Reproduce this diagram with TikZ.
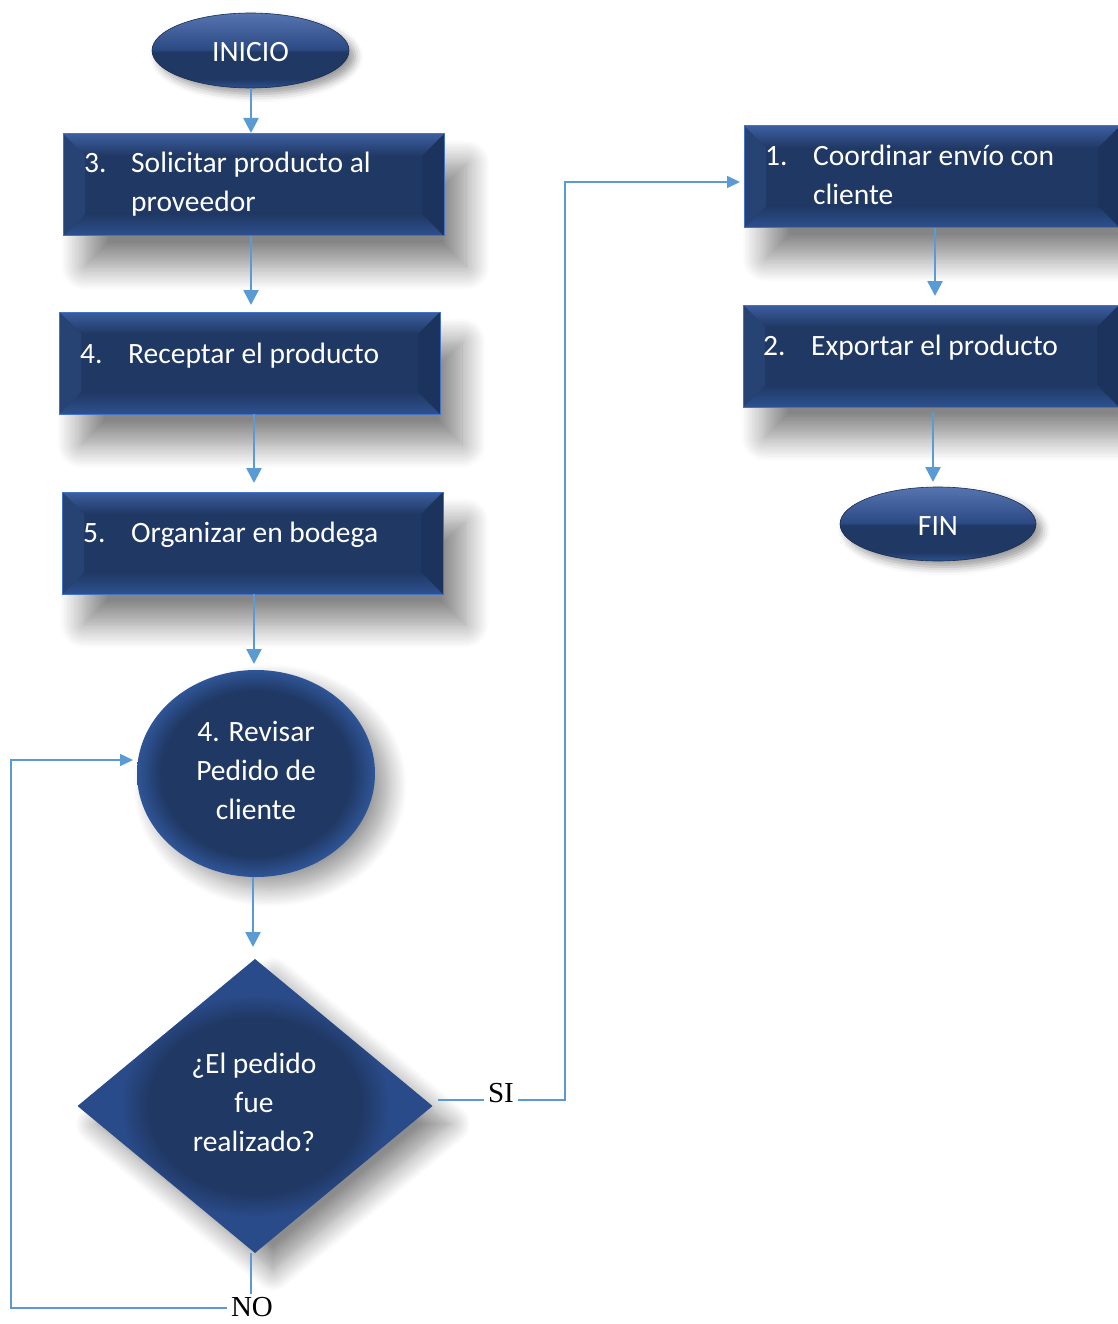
\documentclass[tikz,border=0pt]{standalone}
\usepackage{fontspec}
\setmainfont{Carlito}
\newfontfamily\serifrm{Liberation Serif}
\usetikzlibrary{shapes.geometric,calc,shadows.blur,arrows.meta}

\definecolor{navy}{HTML}{203864}
\definecolor{edgeblue}{HTML}{4472C4}
\definecolor{bvtop}{HTML}{3C5EA0}
\definecolor{bvbot}{HTML}{2D5190}
\definecolor{bvleft}{HTML}{274374}
\definecolor{bvright}{HTML}{1C335E}
\definecolor{flowblue}{HTML}{5B9BD5}
\definecolor{rimblue}{HTML}{2F5597}
\definecolor{diaedge}{HTML}{2A4B8A}
\definecolor{glossmid}{HTML}{2C4A84}
\definecolor{glosstop}{HTML}{5675B0}

% soft lighter rim for the round and diamond shapes
\pgfdeclareradialshading{rim}{\pgfpoint{0bp}{0bp}}{color(0bp)=(navy); color(20bp)=(navy); color(25bp)=(rimblue); color(50bp)=(rimblue)}
\pgfdeclareradialshading{diarim}{\pgfpoint{0bp}{0bp}}{color(0bp)=(navy); color(15bp)=(navy); color(19bp)=(diaedge); color(50bp)=(diaedge)}
% glossy terminal ellipses: light upper half, dark lower half
\pgfdeclareverticalshading{gloss}{100bp}{color(0bp)=(bvbot); color(25bp)=(bvbot); color(31bp)=(navy); color(49bp)=(navy); color(51bp)=(glossmid); color(75bp)=(glosstop); color(100bp)=(glosstop)}

% bevelled edges of a process box
\newcommand\bevelbox[1]{%
  \shade[top color=bvtop, bottom color=navy] (#1.north west) -- (#1.north east) -- ($(#1.north east)+(-22,22)$) -- ($(#1.north west)+(22,22)$) -- cycle;
  \shade[top color=navy, bottom color=bvbot] (#1.south west) -- (#1.south east) -- ($(#1.south east)+(-22,-22)$) -- ($(#1.south west)+(22,-22)$) -- cycle;
  \fill[bvleft] (#1.north west) -- (#1.south west) -- ($(#1.south west)+(22,-22)$) -- ($(#1.north west)+(22,22)$) -- cycle;
  \fill[bvright] (#1.north east) -- (#1.south east) -- ($(#1.south east)+(-22,-22)$) -- ($(#1.north east)+(-22,22)$) -- cycle;
  \draw[edgeblue, line width=1pt] (#1.north west) rectangle (#1.south east);
}

\tikzset{
  procbox/.style={rectangle, fill=navy, minimum height=102pt, inner sep=0pt, outer sep=0pt,
    blur shadow={shadow xshift=22pt, shadow yshift=-30pt, shadow blur radius=24pt, shadow blur steps=18, shadow opacity=48}},
  terminal/.style={ellipse, shading=gloss, draw=navy!80!black, line width=0.6pt, inner sep=0pt, outer sep=0pt,
    blur shadow={shadow xshift=6pt, shadow yshift=-6pt, shadow blur radius=8pt, shadow opacity=40}},
  roundstep/.style={ellipse, shading=rim, inner sep=0pt, outer sep=0pt,
    blur shadow={shadow xshift=14pt, shadow yshift=-12pt, shadow blur radius=18pt, shadow blur steps=14, shadow opacity=40}},
  question/.style={diamond, shading=diarim, inner sep=0pt, outer sep=0pt,
    blur shadow={shadow xshift=18pt, shadow yshift=-18pt, shadow blur radius=20pt, shadow blur steps=14, shadow opacity=45}},
  boxtxt/.style={text=white, font=\fontsize{29.5}{39}\selectfont, inner sep=0pt, anchor=base west},
  shapetxt/.style={text=white, font=\fontsize{29.5}{39}\selectfont, inner sep=0pt, align=center},
  answer/.style={font=\serifrm\fontsize{29}{35}\selectfont, inner xsep=4pt, inner ysep=3pt},
  flow/.style={draw=flowblue, line width=2.6pt, -{Triangle[length=15pt,width=15pt]}},
  loopline/.style={draw=flowblue, line width=1.6pt},
  looparrow/.style={loopline, -{Triangle[length=13pt,width=12pt]}},
}

\begin{document}
\begin{tikzpicture}[x=1pt, y=-1pt]
\useasboundingbox (0,0) rectangle (1118,1324);

% ---- left column ----
\node[terminal, minimum width=197pt, minimum height=75pt] (inicio) at (250.5,50.5) {};
\node[text=white, font=\fontsize{29.5}{35}\selectfont, inner sep=0pt, anchor=base] (inicioT) at (250.5,62) {INICIO};

\node[procbox, minimum width=381pt] (b1) at (253.5,185) {};
\bevelbox{b1}
\node[boxtxt] (b1n) at (84,173) {3.};
\node[boxtxt] (b1a) at (131,173) {Solicitar producto al};
\node[boxtxt] (b1b) at (131,212) {proveedor};

\node[procbox, minimum width=381pt] (b2) at (249.5,363) {};
\bevelbox{b2}
\node[boxtxt] (b2n) at (80,363) {4.};
\node[boxtxt] (b2a) at (128,363) {Receptar el producto};

\node[procbox, minimum width=381pt] (b3) at (252.5,543) {};
\bevelbox{b3}
\node[boxtxt] (b3n) at (83,542) {5.};
\node[boxtxt] (b3a) at (131,542) {Organizar en bodega};

\node[roundstep, minimum width=238pt, minimum height=207pt] (circ) at (256,773.5) {};
\node[shapetxt] (circT) at (256,770) {4. Revisar\\Pedido de\\cliente};

\node[question, minimum width=355pt, minimum height=294pt] (dia) at (255,1106) {};
\node[shapetxt] (diaT) at (254,1102) {¿El pedido\\fue\\realizado?};

% ---- right column ----
\node[procbox, minimum width=376pt] (r1) at (932,177) {};
\bevelbox{r1}
\node[boxtxt] (r1n) at (765,166) {1.};
\node[boxtxt] (r1a) at (813,166) {Coordinar envío con};
\node[boxtxt] (r1b) at (813,205) {cliente};

\node[procbox, minimum width=376pt] (r2) at (931,356) {};
\bevelbox{r2}
\node[boxtxt] (r2n) at (763,355) {2.};
\node[boxtxt] (r2a) at (811,355) {Exportar el producto};

\node[terminal, minimum width=196pt, minimum height=74pt] (fin) at (938,524) {};
\node[text=white, font=\fontsize{29.5}{35}\selectfont, inner sep=0pt, anchor=base] (finT) at (938,535) {FIN};

% ---- main flow ----
\draw[flow, shorten >=1pt] ([xshift=0.5pt]inicio.south) -- ([xshift=0.5pt]inicio.south |- b1.north);
\draw[flow, shorten >=7pt] ([xshift=-2.5pt]b1.south) -- ([xshift=-2.5pt]b1.south |- b2.north);
\draw[flow, shorten >=9pt] ([xshift=4.5pt]b2.south) -- ([xshift=4.5pt]b2.south |- b3.north);
\draw[flow, shorten >=6pt] ([xshift=1.5pt]b3.south) -- ([xshift=1.5pt]b3.south |- circ.north);
\draw[flow, shorten >=12pt] ([xshift=-3pt]circ.south) -- ([xshift=-3pt]circ.south |- dia.north);
\draw[flow, shorten >=9pt] ([xshift=3pt]r1.south) -- ([xshift=3pt]r1.south |- r2.north);
\draw[flow, shorten <=5pt, shorten >=5pt] ([xshift=2pt]r2.south) -- ([xshift=2pt]r2.south |- fin.north);

% ---- yes branch ----
\node[answer] (si) at (501,1093) {SI};
\coordinate (sistart) at ([shift={(5,-6)}]dia.east);
\coordinate (siturn) at (565,182);
\draw[loopline] (sistart) -- (si.west |- sistart);
\draw[looparrow, shorten >=4pt] (si.east |- sistart) -- (siturn |- sistart) -- (siturn) -- (r1.west |- siturn);

% ---- no branch ----
\node[answer] (no) at (252,1307) {NO};
\coordinate (noturn) at (11,1308);
\draw[loopline] ([xshift=-4pt]dia.south) -- ([xshift=-4pt]dia.south |- no.north);
\draw[looparrow] (no.west |- noturn) -- (noturn) |- ([shift={(-4,-13.5)}]circ.west);
\end{tikzpicture}
\end{document}
